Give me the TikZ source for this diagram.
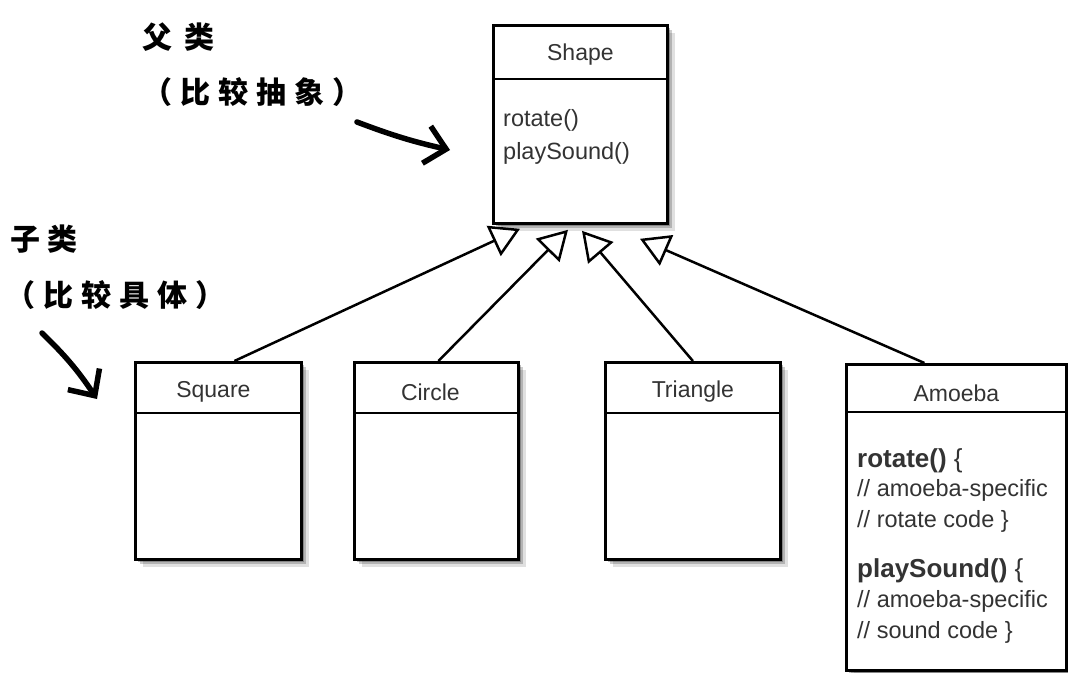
\documentclass[tikz,border=0pt]{standalone}
\usepackage{fontspec}
\setmainfont{Liberation Sans}
\newfontfamily\cjk{Noto Sans CJK SC}
\usetikzlibrary{arrows.meta,positioning,shadows,calc}

\begin{document}
\begin{tikzpicture}[
  x=1pt, y=-1pt,
  every node/.style={font=\fontsize{23}{27}\selectfont, text=black!80, inner sep=0pt},
  cls/.style={draw, line width=2.8pt, fill=white, anchor=north west,
              drop shadow={shadow xshift=8pt, shadow yshift=-8pt, fill=black, opacity=0.12},
              drop shadow={shadow xshift=5pt, shadow yshift=-5pt, fill=black, opacity=0.2},
              drop shadow={shadow xshift=3pt, shadow yshift=-3pt, fill=black, opacity=0.25}},
  ttl/.style={anchor=center},
  txt/.style={anchor=base west, font=\fontsize{23.5}{28}\selectfont},
  btxt/.style={anchor=base west, font=\fontsize{26}{30}\selectfont},
  note/.style={anchor=west, text=black, font=\cjk\bfseries\fontsize{30}{32}\selectfont},
  inh/.style={-{Triangle[fill=white, length=29pt, width=33pt]}, line width=2.5pt},
  hand/.style={-{Straight Barb[length=20pt, width=38pt]}, line width=5.5pt,
               line cap=round, line join=round}
]
\useasboundingbox (0,0) rectangle (1068,672);

%% Class boxes
\node[cls, minimum width=174pt, minimum height=198pt] (shp) at (492,24)  {};
\node[cls, minimum width=166pt, minimum height=197pt] (sq)  at (134,361) {};
\node[cls, minimum width=164pt, minimum height=197pt] (cir) at (353,361) {};
\node[cls, minimum width=175pt, minimum height=197pt] (tri) at (604,361) {};
\node[cls, minimum width=220pt, minimum height=306pt] (amb) at (845,363) {};

%% Dividers
\draw[line width=2.6pt] ([yshift=-55pt]shp.north west) -- ([yshift=-55pt]shp.north east);
\draw[line width=2.6pt] ([yshift=-52pt]sq.north west)  -- ([yshift=-52pt]sq.north east);
\draw[line width=2.6pt] ([yshift=-52pt]cir.north west) -- ([yshift=-52pt]cir.north east);
\draw[line width=2.6pt] ([yshift=-52pt]tri.north west) -- ([yshift=-52pt]tri.north east);
\draw[line width=2.6pt] ([yshift=-49pt]amb.north west) -- ([yshift=-49pt]amb.north east);

%% Titles
\node[ttl] (shpT) at ([yshift=-31pt]shp.north)              {Shape};
\node[ttl] (sqT)  at ([xshift=-5pt, yshift=-31pt]sq.north)  {Square};
\node[ttl] (cirT) at ([xshift=-6pt, yshift=-31pt]cir.north) {Circle};
\node[ttl] (triT) at ([yshift=-31pt]tri.north)              {Triangle};
\node[ttl] (ambT) at ([yshift=-30pt]amb.north)              {Amoeba};

%% Methods
\node[txt] (shpM1) at (503,126) {rotate()};
\node[txt] (shpM2) at (503,159) {playSound()};

\node[btxt] (ambM1) at (857,467) {\textbf{rotate()} \{};
\node[txt]  (ambC1) at (857,496) {// amoeba-specific};
\node[txt]  (ambC2) at (857,527) {// rotate code \}};
\node[btxt] (ambM2) at (857,577) {\textbf{playSound()} \{};
\node[txt]  (ambC3) at (857,607) {// amoeba-specific};
\node[txt]  (ambC4) at (857,638) {// sound code \}};

%% Inheritance arrows
\draw[inh] ([xshift=16pt]sq.north)  -- ([xshift=28pt, yshift=-4pt]shp.south west);
\draw[inh] ([xshift=2pt]cir.north)  -- ([xshift=76pt, yshift=-5pt]shp.south west);
\draw[inh] (tri.north)              -- ([xshift=90pt, yshift=-6pt]shp.south west);
\draw[inh] ([xshift=-32pt]amb.north) -- ([xshift=148pt, yshift=-14pt]shp.south west);

%% Notes
\node[note] (parT) at (142,37)  {\addfontfeatures{LetterSpace=40}父类};
\node[note] (parD) at (142,92)  {\addfontfeatures{LetterSpace=27}（比较抽象）};
\node[note] (subT) at (10,239)  {\addfontfeatures{LetterSpace=23}子类};
\node[note] (subD) at (5,295)   {\addfontfeatures{LetterSpace=27}（比较具体）};

\coordinate (parS) at (357,122);
\coordinate (parE) at (450,150);
\coordinate (subS) at (42,333);
\coordinate (subE) at (97,399);
\draw[hand] (parS) to[bend right=4] (parE);
\draw[hand] (subS) to[bend left=6] (subE);
\end{tikzpicture}
\end{document}
